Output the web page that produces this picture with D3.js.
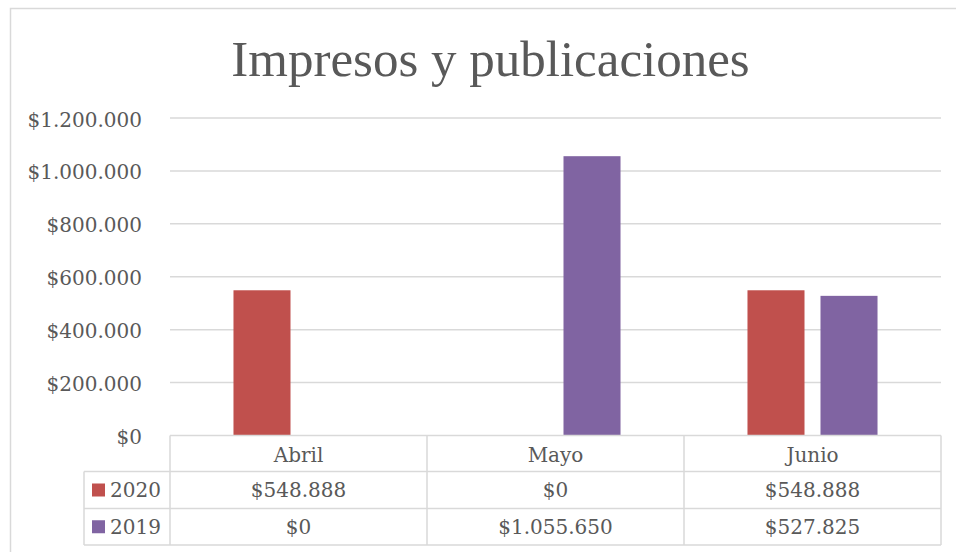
<!DOCTYPE html>
<html>
<head>
<meta charset="utf-8">
<script src="https://cdn.jsdelivr.net/npm/d3@7"></script>
<style>
  body { margin: 0; background: #fff; }
  svg text { font-family: "DejaVu Serif", "Liberation Serif", serif; fill: #595959; }
</style>
</head>
<body>
<div id="container"></div>
<script>
'use strict'
// data
const months = ['Abril', 'Mayo', 'Junio'];
const series = ['2020', '2019'];
const values2020 = [548888, 0, 548888];
const values2019 = [0, 1055650, 527825];
const yTicks = [0, 200000, 400000, 600000, 800000, 1000000, 1200000];
const seriesColors = ['#C0504D', '#8064A2'];

const width = 956, height = 552;
const plotLeft = 170, plotRight = 941, plotTop = 118, plotBottom = 435.5;
const legendLeft = 84;
const rowH = [36, 37, 36.5];

const locale = d3.formatLocale({decimal: ',', thousands: '.', grouping: [3], currency: ['$', '']});
const money = locale.format('$,.0f');

const svg = d3.select('#container').append('svg')
    .attr('width', width)
    .attr('height', height);

// chart border
svg.append('rect')
    .attr('x', 10.5).attr('y', 8.5)
    .attr('width', 960).attr('height', 560)
    .attr('fill', 'none')
    .attr('stroke', '#D9D9D9')
    .attr('stroke-width', 1.5);

// title
svg.append('text')
    .attr('x', 490.5).attr('y', 76)
    .attr('text-anchor', 'middle')
    .style('font-family', '"Liberation Serif", serif')
    .style('font-size', '51px')
    .text('Impresos y publicaciones');

const y = d3.scaleLinear().domain([0, 1200000]).range([plotBottom, plotTop]);
const x = d3.scaleBand().domain(months).range([plotLeft, plotRight])
    .paddingInner(0.494).paddingOuter(0.247);
const xs = d3.scaleBand().domain(series).range([0, x.bandwidth()]).paddingInner(0.219);

// gridlines
svg.append('g')
    .attr('class', 'grid')
    .selectAll('line')
    .data(yTicks.filter(d => d > 0))
    .enter().append('line')
    .attr('x1', plotLeft).attr('x2', plotRight)
    .attr('y1', d => y(d)).attr('y2', d => y(d))
    .attr('stroke', '#D9D9D9')
    .attr('stroke-width', 1.5);

// y axis
const yAxis = svg.append('g')
    .attr('transform', 'translate(' + plotLeft + ',0)')
    .call(d3.axisLeft(y).tickValues(yTicks).tickFormat(money).tickSize(0).tickPadding(28));
yAxis.select('.domain').remove();
yAxis.selectAll('text')
    .style('font-size', '20px')
    .attr('fill', '#595959')
    .attr('dy', '0.4em');

// bars
const seriesData = [values2020, values2019];
const bars = [];
series.forEach((s, si) => {
  months.forEach((m, mi) => {
    bars.push({series: s, month: m, value: seriesData[si][mi], color: seriesColors[si]});
  });
});
svg.append('g').selectAll('rect')
    .data(bars.filter(d => d.value > 0))
    .enter().append('rect')
    .attr('x', d => x(d.month) + xs(d.series))
    .attr('width', xs.bandwidth())
    .attr('y', d => y(d.value))
    .attr('height', d => y(0) - y(d.value))
    .attr('fill', d => d.color);

// data table
const table = svg.append('g');
const rowY = [plotBottom, plotBottom + rowH[0], plotBottom + rowH[0] + rowH[1], plotBottom + rowH[0] + rowH[1] + rowH[2]];
const colX = [plotLeft].concat(months.map(m => x(m) - x.step() * x.paddingInner() / 2 + x.step()));
const lineStyle = sel => sel.attr('stroke', '#D9D9D9').attr('stroke-width', 1.5);

// horizontal lines
table.append('line').attr('x1', plotLeft).attr('x2', plotRight).attr('y1', rowY[0]).attr('y2', rowY[0]).call(lineStyle);
[1, 2, 3].forEach(i => {
  table.append('line').attr('x1', legendLeft).attr('x2', plotRight).attr('y1', rowY[i]).attr('y2', rowY[i]).call(lineStyle);
});
// vertical lines
table.append('line').attr('x1', legendLeft).attr('x2', legendLeft).attr('y1', rowY[1]).attr('y2', rowY[3]).call(lineStyle);
colX.forEach(cx => {
  table.append('line').attr('x1', cx).attr('x2', cx).attr('y1', rowY[0]).attr('y2', rowY[3]).call(lineStyle);
});

// category header
table.selectAll('.cat')
    .data(months)
    .enter().append('text')
    .attr('class', 'cat')
    .attr('x', d => x(d) + x.bandwidth() / 2)
    .attr('y', (rowY[0] + rowY[1]) / 2)
    .attr('dy', '0.4em')
    .attr('text-anchor', 'middle')
    .style('font-size', '20px')
    .text(d => d);

// value rows
series.forEach((s, si) => {
  const cy = (rowY[si + 1] + rowY[si + 2]) / 2;
  table.append('rect')
      .attr('x', 92).attr('y', cy - 6.5)
      .attr('width', 13).attr('height', 13)
      .attr('fill', seriesColors[si]);
  table.append('text')
      .attr('x', 110).attr('y', cy)
      .attr('dy', '0.37em')
      .style('font-size', '20px')
      .text(s);
  table.selectAll('.v' + s)
      .data(seriesData[si])
      .enter().append('text')
      .attr('x', (d, i) => x(months[i]) + x.bandwidth() / 2)
      .attr('y', cy)
      .attr('dy', '0.37em')
      .attr('text-anchor', 'middle')
      .style('font-size', '20px')
      .text(d => money(d));
});
</script>
</body>
</html>
